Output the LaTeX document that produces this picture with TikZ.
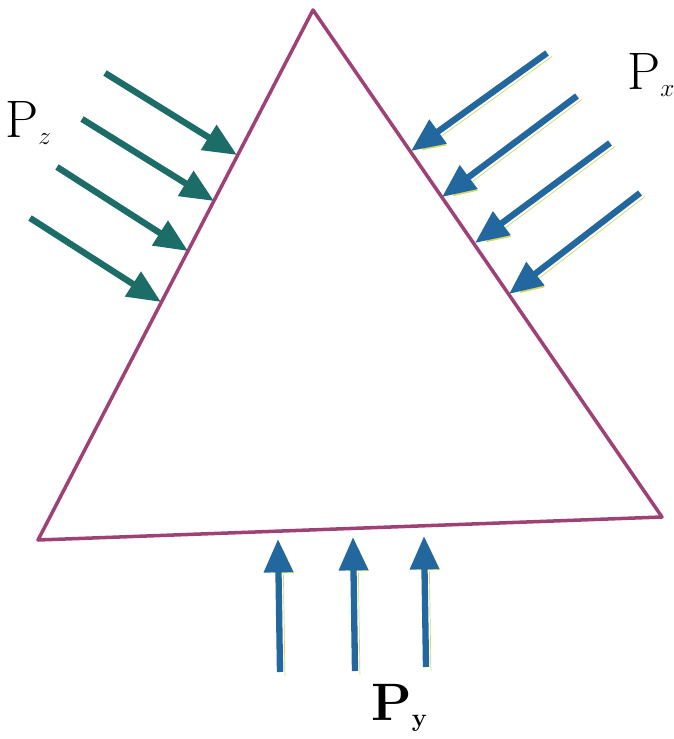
\documentclass[tikz,border=0pt]{standalone}
\usepackage{tikz}
\usetikzlibrary{arrows.meta}
\definecolor{prismpurple}{RGB}{158,66,118}
\definecolor{pzgreen}    {RGB}{28,108,104}
\definecolor{pxblue}     {RGB}{34,104,158}
\definecolor{shadeyellow}{RGB}{214,214,96}
\tikzset{
  prism/.style  ={draw=prismpurple, line width=2pt, line join=round},
  force/.style  ={-{Triangle[length=19pt,width=16pt]}, line width=3.6pt},
  pzarr/.style  ={force, draw=pzgreen,
                  preaction={draw=shadeyellow!80, transform canvas={shift={(1.4pt,-1pt)}}}},
  pxarr/.style  ={force, draw=pxblue,
                  preaction={draw=shadeyellow, transform canvas={shift={(2.8pt,-2pt)}}}},
  lbl/.style    ={inner sep=0pt, font=\fontsize{30}{34}\selectfont},
}
\begin{document}
\begin{tikzpicture}[x=0.02cm, y=-0.02cm]
  \useasboundingbox (0,0) rectangle (673,739);

  %% prism
  \coordinate (top)   at (313,10);
  \coordinate (left)  at (38,540);
  \coordinate (right) at (662,517);
  \draw[prism] (top) -- (left) -- (right) -- cycle;

  %% P_z arrows
  \coordinate (z1a) at (105,73);  \coordinate (z1b) at (237,155);
  \coordinate (z2a) at (82,119);  \coordinate (z2b) at (214,201);
  \coordinate (z3a) at (57,167);  \coordinate (z3b) at (188,251);
  \coordinate (z4a) at (30,218);  \coordinate (z4b) at (161,302);
  \draw[pzarr] (z1a) -- (z1b);
  \draw[pzarr] (z2a) -- (z2b);
  \draw[pzarr] (z3a) -- (z3b);
  \draw[pzarr] (z4a) -- (z4b);

  %% P_x arrows
  \coordinate (x1a) at (547,53);  \coordinate (x1b) at (411,151);
  \coordinate (x2a) at (577,96);  \coordinate (x2b) at (442,197);
  \coordinate (x3a) at (610,143); \coordinate (x3b) at (475,243);
  \coordinate (x4a) at (640,193); \coordinate (x4b) at (509,294);
  \draw[pxarr] (x1a) -- (x1b);
  \draw[pxarr] (x2a) -- (x2b);
  \draw[pxarr] (x3a) -- (x3b);
  \draw[pxarr] (x4a) -- (x4b);

  %% P_y arrows
  \coordinate (y1a) at (280,672); \coordinate (y1b) at (278,539);
  \coordinate (y2a) at (355,671); \coordinate (y2b) at (353,537);
  \coordinate (y3a) at (426,667); \coordinate (y3b) at (424,536);
  \draw[pxarr] (y1a) -- (y1b);
  \draw[pxarr] (y2a) -- (y2b);
  \draw[pxarr] (y3a) -- (y3b);

  %% labels
  \node[lbl, anchor=base west] (pz) at (5,138) {P$_{\scriptscriptstyle z}$};
  \node[lbl, anchor=base west] (px) at (627,90) {P$_{\scriptscriptstyle x}$};
  \node[lbl, anchor=base west] (py) at (371,720) {\textbf{P}$_{\scriptscriptstyle\mathbf{y}}$};
\end{tikzpicture}
\end{document}
